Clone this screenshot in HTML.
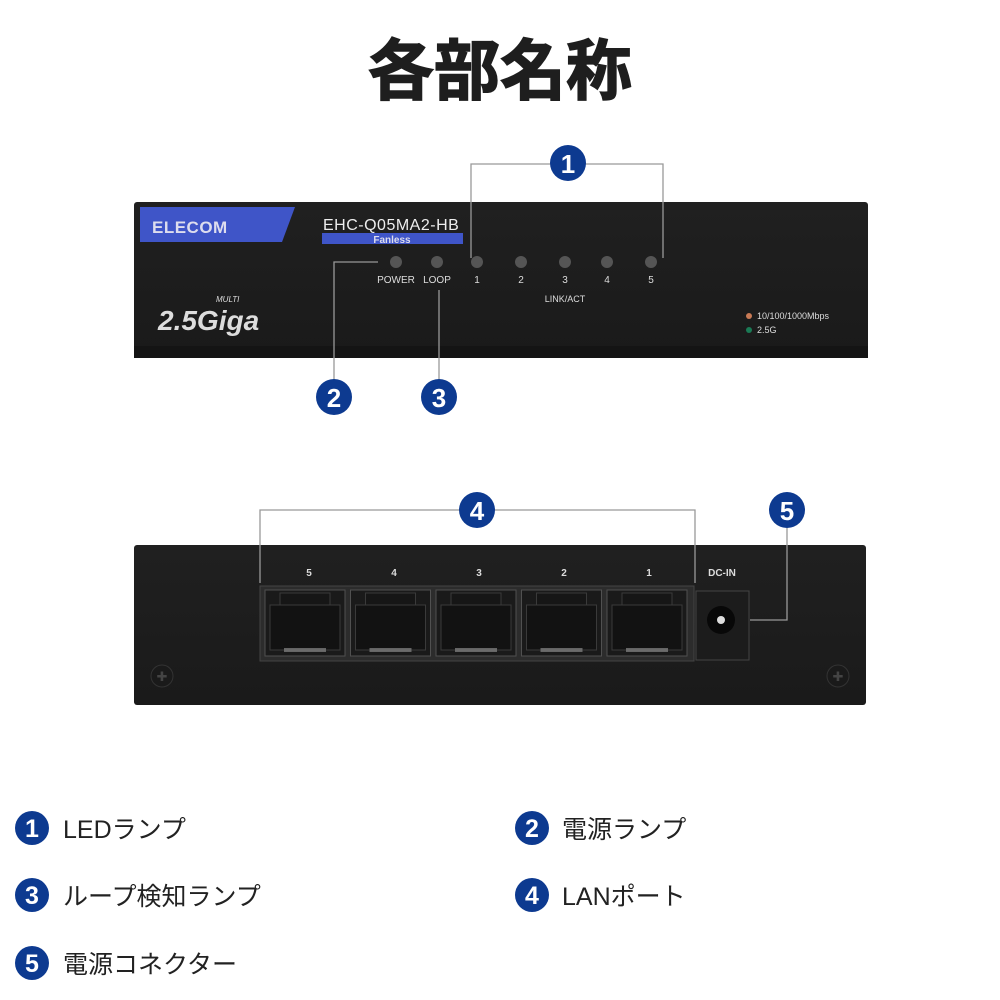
<!DOCTYPE html>
<html><head><meta charset="utf-8"><style>
html,body{margin:0;padding:0;background:#fff;width:1000px;height:1000px;overflow:hidden}
svg{display:block}
.lg{font-family:"Liberation Sans","Noto Sans CJK JP",sans-serif;font-size:25px;fill:#222}
</style></head><body>
<svg width="1000" height="1000" viewBox="0 0 1000 1000" xmlns="http://www.w3.org/2000/svg">
<defs>
<linearGradient id="bod" x1="0" y1="0" x2="0" y2="1"><stop offset="0" stop-color="#202020"/><stop offset="1" stop-color="#1a1a1a"/></linearGradient>
</defs>
<text x="500" y="94" text-anchor="middle" font-family="Liberation Sans,'Noto Sans CJK JP',sans-serif" font-weight="bold" font-size="66" fill="#1e1e1e" stroke="#1e1e1e" stroke-width="1.5">各部名称</text>

<!-- front panel -->
<rect x="134" y="202" width="734" height="156" rx="3" fill="url(#bod)"/>
<rect x="134" y="346" width="734" height="12" fill="#141414"/>
<polygon points="140,207 295,207 282,242 140,242" fill="#3f55c8"/>
<text x="152" y="233" font-family="Liberation Sans,sans-serif" font-weight="bold" font-size="17" fill="#dde" letter-spacing="0.5">ELECOM</text>
<text x="323" y="230" font-family="Liberation Sans,sans-serif" font-size="16" fill="#eee" letter-spacing="0.5">EHC-Q05MA2-HB</text>
<rect x="322" y="233" width="141" height="11" fill="#3f55c8"/>
<text x="392" y="243" text-anchor="middle" font-family="Liberation Sans,sans-serif" font-weight="bold" font-size="10" fill="#dde">Fanless</text>
<g fill="#555">
<circle cx="396" cy="262" r="6"/><circle cx="437" cy="262" r="6"/><circle cx="477" cy="262" r="6"/><circle cx="521" cy="262" r="6"/><circle cx="565" cy="262" r="6"/><circle cx="607" cy="262" r="6"/><circle cx="651" cy="262" r="6"/>
</g>
<g font-family="Liberation Sans,sans-serif" font-size="10" fill="#ddd" text-anchor="middle">
<text x="396" y="283">POWER</text><text x="437" y="283">LOOP</text>
<text x="477" y="283">1</text><text x="521" y="283">2</text><text x="565" y="283">3</text><text x="607" y="283">4</text><text x="651" y="283">5</text>
<text x="565" y="302" font-size="9">LINK/ACT</text>
<text x="757" y="319" text-anchor="start" font-size="9">10/100/1000Mbps</text>
<text x="757" y="333" text-anchor="start" font-size="9">2.5G</text>
</g>
<circle cx="749" cy="316" r="3" fill="#c87a55"/><circle cx="749" cy="330" r="3" fill="#1a7a55"/>
<text x="158" y="330" font-family="Liberation Sans,sans-serif" font-style="italic" font-weight="bold" font-size="28" fill="#ddd">2.5Giga</text>
<text x="216" y="302" font-family="Liberation Sans,sans-serif" font-style="italic" font-size="8" fill="#ddd">MULTI</text>

<!-- rear panel -->
<rect x="134" y="545" width="732" height="160" rx="3" fill="url(#bod)"/>
<g font-family="Liberation Sans,sans-serif" font-size="10" font-weight="bold" fill="#ddd" text-anchor="middle">
<text x="309" y="576">5</text><text x="394" y="576">4</text><text x="479" y="576">3</text><text x="564" y="576">2</text><text x="649" y="576">1</text>
<text x="722" y="576">DC-IN</text>
</g>
<rect x="260" y="586" width="434" height="75" fill="#2c2c2c" stroke="#444"/>
<g>
<g id="p">
<rect x="265" y="590" width="80" height="66" fill="#1a1a1a" stroke="#505050"/>
<rect x="280" y="593" width="50" height="30" fill="#161616" stroke="#3a3a3a"/>
<rect x="270" y="605" width="70" height="45" fill="#121212" stroke="#3a3a3a"/>
<rect x="284" y="648" width="42" height="4" fill="#888" opacity="0.7"/>
</g>
<use href="#p" x="85.5"/><use href="#p" x="171"/><use href="#p" x="256.5"/><use href="#p" x="342"/>
</g>
<rect x="696" y="591" width="53" height="69" fill="#1c1c1c" stroke="#444"/>
<circle cx="721" cy="620" r="14" fill="#080808"/><circle cx="721" cy="620" r="4" fill="#ddd"/>
<circle cx="162" cy="676" r="11" fill="#1a1a1a" stroke="#333"/><text x="162" y="681" text-anchor="middle" font-size="13" fill="#444">✚</text>
<circle cx="838" cy="676" r="11" fill="#1a1a1a" stroke="#333"/><text x="838" y="681" text-anchor="middle" font-size="13" fill="#444">✚</text>

<!-- callouts -->
<g stroke="#999" stroke-width="1.3" fill="none">
<polyline points="471,258 471,164 663,164 663,258"/>
<polyline points="334,380 334,262 378,262"/>
<polyline points="439,380 439,290"/>
<polyline points="260,583 260,510 695,510 695,583"/>
<polyline points="787,528 787,620 750,620"/>
</g>

<g fill="#0d3a90">
<circle cx="568" cy="163" r="18"/><circle cx="334" cy="397" r="18"/><circle cx="439" cy="397" r="18"/>
<circle cx="477" cy="510" r="18"/><circle cx="787" cy="510" r="18"/>
<circle cx="32" cy="828" r="17"/><circle cx="532" cy="828" r="17"/><circle cx="32" cy="895" r="17"/><circle cx="532" cy="895" r="17"/><circle cx="32" cy="963" r="17"/>
</g>
<g font-family="Liberation Sans,sans-serif" font-weight="bold" fill="#fff" text-anchor="middle" font-size="26">
<text x="568" y="173">1</text><text x="334" y="407">2</text><text x="439" y="407">3</text><text x="477" y="520">4</text><text x="787" y="520">5</text>
<text x="32" y="837" font-size="25">1</text><text x="532" y="837" font-size="25">2</text><text x="32" y="904" font-size="25">3</text><text x="532" y="904" font-size="25">4</text><text x="32" y="972" font-size="25">5</text>
</g>
<text class="lg" x="63" y="838">LEDランプ</text>
<text class="lg" x="562" y="838">電源ランプ</text>
<text class="lg" x="63" y="905">ループ検知ランプ</text>
<text class="lg" x="562" y="905">LANポート</text>
<text class="lg" x="63" y="973">電源コネクター</text>
</svg>
</body></html>
